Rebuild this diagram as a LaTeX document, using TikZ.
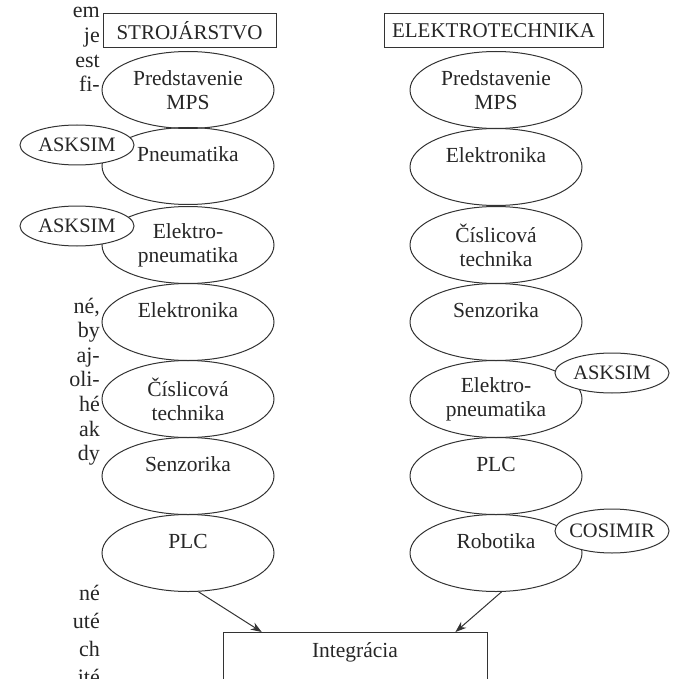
\documentclass[tikz,border=0pt]{standalone}
\usepackage{fontspec}
\setmainfont{Liberation Serif}
\usetikzlibrary{shapes.geometric,arrows.meta,calc}
\begin{document}
\begin{tikzpicture}[x=1pt,y=-1pt,
  every node/.style={font=\fontsize{21.5}{24}\selectfont, text=black!85},
  box/.style={draw=black!80, line width=1pt, minimum height=34, inner sep=0, font=\fontsize{21}{24}\selectfont},
  el/.style={draw=black!80, ellipse, line width=1pt, minimum width=172, minimum height=77, inner sep=0, align=center},
  sel/.style={draw=black!80, ellipse, fill=white, line width=1pt, minimum width=114, minimum height=40, inner sep=-8pt, font=\fontsize{20.5}{24}\selectfont},
  frag/.style={anchor=base east, font=\fontsize{22}{24}\selectfont, inner sep=0},
  arr/.style={draw=black!80, -{Stealth[length=11pt,width=8pt]}, line width=1pt}
]
\useasboundingbox (0,0) rectangle (672,679);

% page text fragments
\node[frag] (f1) at (100,18) {em};
\node[frag] (f2) at (100,43) {je};
\node[frag] (f3) at (100,68) {est};
\node[frag] (f4) at (100,92) {fi-};
\node[frag] (f5) at (100,313) {né,};
\node[frag] (f6) at (100,337) {by};
\node[frag] (f7) at (100,362) {aj-};
\node[frag] (f8) at (100,386) {oli-};
\node[frag] (f9) at (100,411) {hé};
\node[frag] (f10) at (100,436) {ak};
\node[frag] (f11) at (100,460) {dy};
\node[frag] (f12) at (100,600) {né};
\node[frag] (f13) at (100,628) {uté};
\node[frag] (f14) at (100,656) {ch};
\node[frag] (f15) at (100,684) {ité};

% headers
\node[box, minimum width=173] (strojBox) at (189.5,31) {STROJÁRSTVO};
\node[box, minimum width=219] (elekBox) at (493.5,31) {ELEKTROTECHNIKA};

% left column
\node[el] (predL) at (188,90) {Predstavenie\\MPS};
\node[el] (pneuL) at (188,166) {Pneumatika\\\mbox{}};
\node[el] (epL) at (188,245) {Elektro-\\pneumatika};
\node[el] (elL) at (188,322) {Elektronika\\\mbox{}};
\node[el] (ciL) at (188,399) {Číslicová\\technika};
\node[el] (seL) at (188,476) {Senzorika\\\mbox{}};
\node[el] (plcL) at (188,553) {PLC\\\mbox{}};

% right column
\node[el] (predR) at (496,90) {Predstavenie\\MPS};
\node[el] (elR) at (496,167) {Elektronika\\\mbox{}};
\node[el] (ciR) at (496,245) {Číslicová\\technika};
\node[el] (seR) at (496,322) {Senzorika\\\mbox{}};
\node[el] (epR) at (496,399) {Elektro-\\pneumatika};
\node[el] (plcR) at (496,476) {PLC\\\mbox{}};
\node[el] (robR) at (496,553) {Robotika\\\mbox{}};

% side ellipses
\node[sel] (askL1) at (77,145) {ASKSIM};
\node[sel] (askL2) at (77,226) {ASKSIM};
\node[sel] (askR) at (612,373) {ASKSIM};
\node[sel, minimum height=44] (cosR) at (612,531) {COSIMIR};

% integration box
\node[draw=black!80, line width=1pt, anchor=north, minimum width=264, inner xsep=0, inner ysep=10, text depth=50] (integ) at (355,632) {Integrácia};

\draw[arr] (plcL.-75) -- ($(integ.north west)!0.148!(integ.north east)$);
\draw[arr] (robR.-82) -- ($(integ.north west)!0.879!(integ.north east)$);
\end{tikzpicture}
\end{document}
